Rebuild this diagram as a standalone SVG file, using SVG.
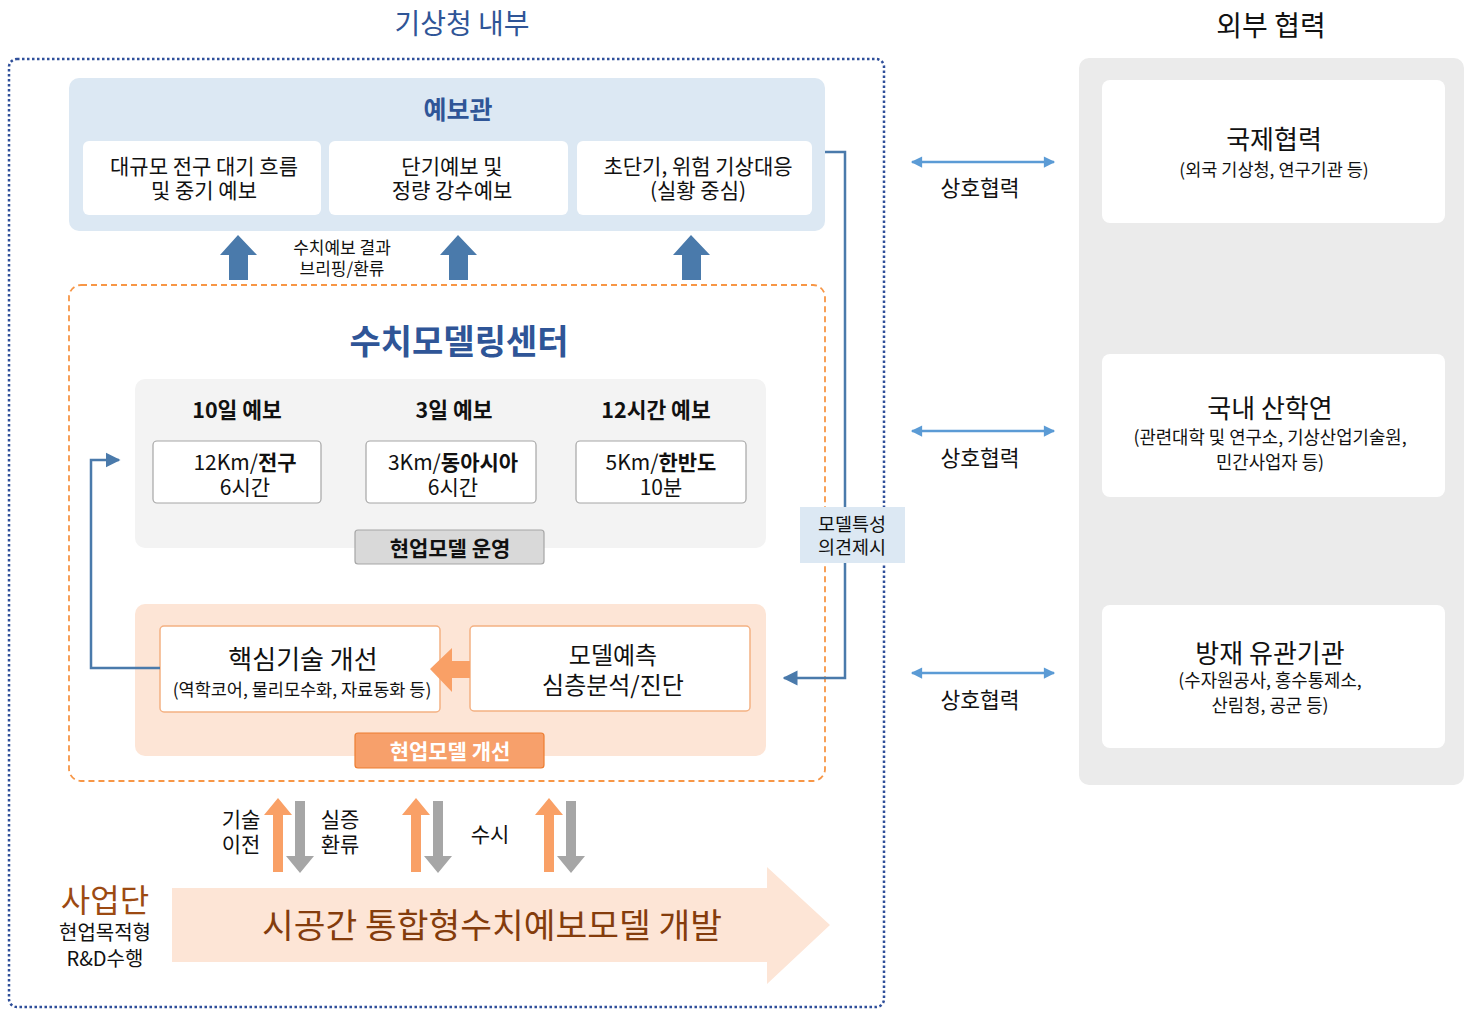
<svg xmlns="http://www.w3.org/2000/svg" width="1468" height="1011" viewBox="0 0 1468 1011">
<defs>
<style>
text{font-family:"Noto Sans CJK KR","Noto Sans",sans-serif;text-anchor:middle;dominant-baseline:central;fill:#111}
.b{font-weight:bold}
.blue{fill:#2f5597}
.t20{font-size:20px}
.t21{font-size:21px}
.t17{font-size:17px}
.t24{font-size:24px}
.wbox{fill:#fff}
.gbox{fill:#fff;stroke:#a6a6a6;stroke-width:1.2}
.obox{fill:#fff;stroke:#f4b183;stroke-width:1.5}
.conn{fill:none;stroke:#4a7aab;stroke-width:2.5}
.dbl{fill:none;stroke:#5b9bd5;stroke-width:2.5}
</style>
<marker id="ah" viewBox="0 0 10 10" refX="9" refY="5" markerWidth="6" markerHeight="6.5" orient="auto" markerUnits="strokeWidth"><path d="M0,0 L10,5 L0,10 z" fill="#4a7aab"/></marker>
<marker id="ah2" viewBox="0 0 10 10" refX="9" refY="5" markerWidth="5.5" markerHeight="4.5" orient="auto-start-reverse" markerUnits="strokeWidth"><path d="M0,0 L10,5 L0,10 z" fill="#5b9bd5"/></marker>
</defs>

<g id="titles">
<text x="462" y="22" style="font-size:28px" class="blue">기상청 내부</text>
<text x="1271" y="24" style="font-size:28px">외부 협력</text>
</g>

<g id="inner-frame">
<rect x="9" y="59" width="875" height="948" rx="8" fill="none" stroke="#2f4f9a" stroke-width="2.5" stroke-dasharray="2.5 2.5"/>
</g>

<g id="forecaster">
<rect x="69" y="78" width="756" height="153" rx="10" fill="#dce8f3"/>
<text x="458" y="108" class="b blue" style="font-size:25px">예보관</text>
<rect x="83" y="141" width="238" height="74" rx="6" class="wbox"/>
<text x="204" y="165" class="t21">대규모 전구 대기 흐름<tspan x="204" dy="24">및 중기 예보</tspan></text>
<rect x="329" y="141" width="239" height="74" rx="6" class="wbox"/>
<text x="452" y="165" class="t21">단기예보 및<tspan x="452" dy="24">정량 강수예보</tspan></text>
<rect x="577" y="141" width="235" height="74" rx="6" class="wbox"/>
<text x="698" y="165" class="t21">초단기, 위험 기상대응<tspan x="698" dy="24">(실황 중심)</tspan></text>
</g>

<g id="up-arrows" fill="#4a7aab">
<path d="M238,235 L257,255 L248,255 L248,280 L229,280 L229,255 L220,255 z"/>
<path d="M458,235 L477,255 L468,255 L468,280 L449,280 L449,255 L440,255 z"/>
<path d="M691,235 L710,255 L701,255 L701,280 L682,280 L682,255 L673,255 z"/>
</g>
<text x="342" y="246" class="t17">수치예보 결과<tspan x="342" dy="21">브리핑/환류</tspan></text>

<g id="modeling-center">
<rect x="69" y="285" width="756" height="496" rx="12" fill="none" stroke="#f79646" stroke-width="1.8" stroke-dasharray="6 4"/>
<text x="459" y="339" class="b blue" style="font-size:34px">수치모델링센터</text>
</g>

<g id="operation">
<rect x="135" y="379" width="631" height="169" rx="10" fill="#f3f3f3"/>
<text x="237" y="408" class="b" style="font-size:21.5px">10일 예보</text>
<text x="454" y="408" class="b" style="font-size:21.5px">3일 예보</text>
<text x="656" y="408" class="b" style="font-size:21.5px">12시간 예보</text>
<rect x="153" y="441" width="168" height="62" rx="4" class="gbox"/>
<text x="245" y="461" class="t21">12Km/<tspan class="b">전구</tspan><tspan x="245" dy="25">6시간</tspan></text>
<rect x="366" y="441" width="170" height="62" rx="4" class="gbox"/>
<text x="453" y="461" class="t21">3Km/<tspan class="b">동아시아</tspan><tspan x="453" dy="25">6시간</tspan></text>
<rect x="576" y="441" width="170" height="62" rx="4" class="gbox"/>
<text x="661" y="461" class="t21">5Km/<tspan class="b">한반도</tspan><tspan x="661" dy="25">10분</tspan></text>
<rect x="355" y="530" width="189" height="34" rx="3" fill="#d9d9d9" stroke="#a6a6a6" stroke-width="1.2"/>
<text x="450" y="547" class="b t21">현업모델 운영</text>
</g>

<g id="improvement">
<rect x="135" y="604" width="631" height="152" rx="10" fill="#fde5d6"/>
<rect x="160" y="626" width="280" height="86" rx="4" class="obox"/>
<text x="303" y="657" style="font-size:26px">핵심기술 개선</text>
<text x="302" y="688" style="font-size:17.5px">(역학코어, 물리모수화, 자료동화 등)</text>
<rect x="470" y="626" width="280" height="85" rx="4" class="obox"/>
<text x="613" y="653" class="t24">모델예측<tspan x="613" dy="30">심층분석/진단</tspan></text>
<path d="M430,669 L452,648 L452,661 L470,661 L470,678 L452,678 L452,692 z" fill="#f9a066"/>
<rect x="355" y="733" width="189" height="35" rx="3" fill="#f7a06b" stroke="#ed7d31" stroke-width="1.2"/>
<text x="450" y="750" class="b t21" style="fill:#fff">현업모델 개선</text>
</g>

<g id="connectors">
<polyline class="conn" points="160,668 91,668 91,460 119,460" marker-end="url(#ah)"/>
<polyline class="conn" points="825,152 845,152 845,678 784,678" marker-end="url(#ah)"/>
<line class="dbl" x1="912" y1="162" x2="1054" y2="162" marker-start="url(#ah2)" marker-end="url(#ah2)"/>
<line class="dbl" x1="912" y1="431" x2="1054" y2="431" marker-start="url(#ah2)" marker-end="url(#ah2)"/>
<line class="dbl" x1="912" y1="673" x2="1054" y2="673" marker-start="url(#ah2)" marker-end="url(#ah2)"/>
</g>

<g id="opinion-label">
<rect x="800" y="507" width="105" height="56" fill="#dce8f3"/>
<text x="852" y="523" style="font-size:18.5px">모델특성<tspan x="852" dy="23">의견제시</tspan></text>
</g>

<g id="coop-labels">
<text x="980" y="186" style="font-size:21.5px">상호협력</text>
<text x="980" y="456" style="font-size:21.5px">상호협력</text>
<text x="980" y="698" style="font-size:21.5px">상호협력</text>
</g>

<g id="external">
<rect x="1079" y="58" width="385" height="727" rx="10" fill="#ebebeb"/>
<g id="intl">
<rect x="1102" y="80" width="343" height="143" rx="8" class="wbox"/>
<text x="1274" y="137" style="font-size:26px">국제협력</text>
<text x="1274" y="168" style="font-size:17.5px">(외국 기상청, 연구기관 등)</text>
</g>
<g id="domestic">
<rect x="1102" y="354" width="343" height="143" rx="8" class="wbox"/>
<text x="1270" y="406" style="font-size:26px">국내 산학연</text>
<text x="1270" y="436" style="font-size:17.8px">(관련대학 및 연구소, 기상산업기술원,<tspan x="1270" dy="25">민간사업자 등)</tspan></text>
</g>
<g id="disaster">
<rect x="1102" y="605" width="343" height="143" rx="8" class="wbox"/>
<text x="1270" y="651" style="font-size:26px">방재 유관기관</text>
<text x="1270" y="679" style="font-size:17.8px">(수자원공사, 홍수통제소,<tspan x="1270" dy="25">산림청, 공군 등)</tspan></text>
</g>
</g>

<g id="bi-arrows">
<g fill="#f9a066">
<path d="M278,798 L292,815 L283,815 L283,872 L273,872 L273,815 L264,815 z"/>
<path d="M416,798 L430,815 L421,815 L421,872 L411,872 L411,815 L402,815 z"/>
<path d="M549,798 L563,815 L554,815 L554,872 L544,872 L544,815 L535,815 z"/>
</g>
<g fill="#a6a6a6">
<path d="M300,873 L314,856 L305,856 L305,801 L295,801 L295,856 L286,856 z"/>
<path d="M438,873 L452,856 L443,856 L443,801 L433,801 L433,856 L424,856 z"/>
<path d="M571,873 L585,856 L576,856 L576,801 L566,801 L566,856 L557,856 z"/>
</g>
<text x="241" y="818" class="t21">기술<tspan x="241" dy="25">이전</tspan></text>
<text x="340" y="818" class="t21">실증<tspan x="340" dy="25">환류</tspan></text>
<text x="490" y="833" class="t21">수시</text>
</g>

<g id="project">
<path d="M172,888 L767,888 L767,867 L830,925 L767,984 L767,962 L172,962 z" fill="#fde5d6"/>
<text x="492" y="923" style="font-size:34.5px;fill:#843c0c">시공간 통합형수치예보모델 개발</text>
<text x="105" y="898" style="font-size:32px;fill:#9c4a12">사업단</text>
<text x="105" y="931" class="t20">현업목적형<tspan x="105" dy="26">R&amp;D수행</tspan></text>
</g>
</svg>
